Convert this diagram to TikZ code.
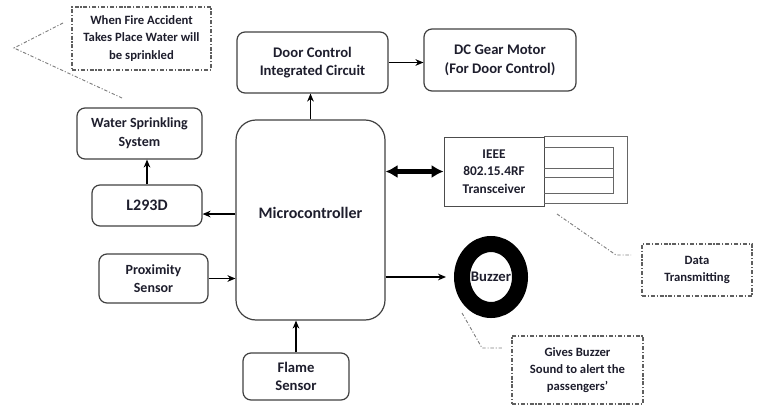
\documentclass[tikz,border=0pt]{standalone}
\usepackage{fontspec}
\setmainfont{Carlito}
\usetikzlibrary{arrows.meta,shapes.geometric}
\definecolor{txtcol}{RGB}{30,30,45}
\definecolor{notecol}{RGB}{95,95,95}
\definecolor{edgecol}{RGB}{64,64,64}

\tikzset{
    boxsize/.style 2 args={minimum width=#1*0.75pt, minimum height=#2*0.75pt},
    blk/.style={draw=edgecol, rounded corners=6pt, line width=0.9pt, align=center, inner sep=0pt,
        text=txtcol, font=\bfseries\fontsize{11}{14}\selectfont},
    note/.style={draw=notecol, dash pattern=on 3pt off 1.4pt on 0.8pt off 1.4pt, line width=0.8pt,
        align=center, inner sep=0pt, text=txtcol, font=\bfseries\fontsize{9.5}{13}\selectfont},
    lead/.style={draw=notecol!80, dash pattern=on 2.5pt off 1.4pt on 0.8pt off 1.4pt, line width=0.7pt},
    arr/.style={-{Stealth[length=6pt,width=5pt]}, line width=0.9pt},
    rfline/.style={draw=black!60, line width=0.7pt},
}

\begin{document}
\begin{tikzpicture}[x=0.75pt,y=0.75pt,yscale=-1,xscale=1]
    \useasboundingbox (0,0) rectangle (757,407);
    \node (micro) [blk, rounded corners=15pt, boxsize={149}{200}, font=\bfseries\fontsize{12}{14}\selectfont] at (310.5,220) {\raisebox{10.5pt}{Microcontroller}};
    \node (dcic) [blk, boxsize={151}{61}] at (312.5,62.5) {Door Control\\Integrated Circuit};
    \node (motor) [blk, boxsize={152}{62}] at (500,60) {DC Gear Motor\\(For Door Control)};
    \node (water) [blk, boxsize={125}{51}, font=\bfseries\fontsize{10.5}{14}\selectfont] at (139.5,133.5) {Water Sprinkling\\System};
    \node (l293) [blk, boxsize={110}{41}, font=\bfseries\fontsize{12}{14}\selectfont] at (147,205.5) {L293D};
    \node (prox) [blk, boxsize={109}{49}, font=\bfseries\fontsize{10.5}{14}\selectfont] at (153.5,278.5) {Proximity\\Sensor};
    \node (flame) [blk, boxsize={106}{47}] at (296,376.5) {Flame\\Sensor};
    \node (ieee) [blk, rounded corners=0pt, draw=black!70, line width=0.7pt, boxsize={100}{69}, font=\bfseries\fontsize{10}{13}\selectfont] at (494,171.5) {IEEE\\802.15.4RF\\Transceiver};
    \node (buzzer) [ellipse, draw=black, line width=12pt, inner sep=0pt, boxsize={58}{66}, text=txtcol, font=\bfseries\fontsize{11}{14}\selectfont] at (491,277) {Buzzer};

    \node (note1) [note, boxsize={139}{63}] at (141.5,38.5) {When Fire Accident\\Takes Place Water will\\be sprinkled};
    \node (note2) [note, boxsize={110}{52}] at (697,270) {Data\\Transmitting};
    \node (note3) [note, boxsize={131}{68}] at (577.5,370) {Gives Buzzer\\Sound to alert the\\passengers’};

    \draw[rfline] (ieee.north east) -- ++(83,0) -- ++(0,67) -- ++(-83,0);
    \draw[rfline] (544,147) -| (613,193) -- (544,193);
    \draw[rfline] (544,168) -- (613,168);
    \draw[rfline] (544,177) -- (613,177);

    \draw[arr] ([yshift=6.4pt]l293.east -| micro.west) -- ([yshift=6.4pt]l293.east);
    \draw[arr] (l293.north) -- (l293.north |- water.south);
    \draw[arr] (micro.north) -- (micro.north |- dcic.south);
    \draw[arr] (dcic.east) -- (dcic.east -| motor.west);
    \draw[arr] (prox.east) -- (prox.east -| micro.west);
    \draw[arr] (flame.north) -- (flame.north |- micro.south);
    \draw[arr, shorten >=6pt] (micro.east |- buzzer.west) -- (buzzer.west);
    \draw[{Latex[length=9pt,width=10pt]}-{Latex[length=9pt,width=10pt]}, line width=3.2pt] (micro.east |- ieee.west) -- (ieee.west);

    \coordinate (n1a) at (63,23);
    \coordinate (n1b) at (14,48);
    \coordinate (n1c) at (122,98);
    \draw[lead] (n1a) -- (n1b) -- (n1c);
    \coordinate (n2a) at (557,214);
    \coordinate (n2b) at (616,255);
    \coordinate (n2c) at (631,255);
    \draw[lead] (n2a) -- (n2b) -- (n2c);
    \coordinate (n3a) at (462,313);
    \coordinate (n3b) at (482,348);
    \coordinate (n3c) at (503,348);
    \draw[lead] (n3a) -- (n3b) -- (n3c);
\end{tikzpicture}
\end{document}
